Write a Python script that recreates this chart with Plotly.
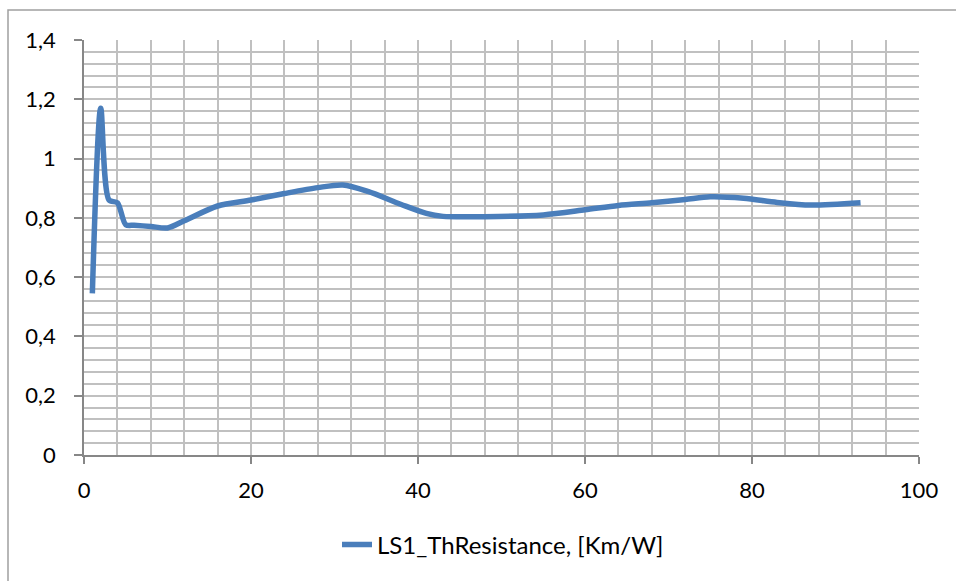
import plotly.graph_objects as go

# Data
x_vals = [1, 2, 3, 4, 5, 6, 8, 10, 12, 16, 20, 24, 28, 31, 34, 38, 41, 43, 48, 55, 60, 64, 68, 72, 75, 79, 83, 87, 93]
y_vals = [0.545, 1.17, 0.86, 0.851, 0.777, 0.775, 0.771, 0.766, 0.79, 0.84, 0.86, 0.882, 0.902, 0.911, 0.889,
          0.845, 0.815, 0.805, 0.804, 0.81, 0.827, 0.842, 0.851, 0.862, 0.871, 0.866, 0.852, 0.843, 0.851]
series_name = "LS1_ThResistance, [Km/W]"
y_tick_vals = [0, 0.2, 0.4, 0.6, 0.8, 1.0, 1.2, 1.4]
y_tick_text = ["0", "0,2", "0,4", "0,6", "0,8", "1", "1,2", "1,4"]

W, H = 956, 581
L, R, T, B = 84, 37, 40, 126
pw, ph = W - L - R, H - T - B

FONT = "Lato"
grid_col = "#c0c0c0"
axis_col = "#878787"

fig = go.Figure()
fig.add_trace(go.Scatter(
    x=x_vals, y=y_vals, mode="lines", name=series_name,
    line=dict(color="#4A7EBB", width=5.5, shape="spline", smoothing=0.8),
))

def px_to_paper_x(p):
    return (p - L) / pw

def px_to_paper_y(p):
    return (H - B - p) / ph

fig.update_layout(
    width=W, height=H,
    margin=dict(l=L, r=R, t=T, b=B),
    paper_bgcolor="white", plot_bgcolor="white",
    font=dict(family=FONT, size=22, color="#000000"),
    showlegend=True,
    legend=dict(orientation="h", x=px_to_paper_x(503), xanchor="center",
                y=px_to_paper_y(545), yanchor="middle",
                font=dict(family=FONT, size=24), bgcolor="rgba(0,0,0,0)"),
    xaxis=dict(range=[0, 100], tickvals=[0, 20, 40, 60, 80, 100],
               showgrid=True, gridcolor=grid_col, gridwidth=1.5,
               minor=dict(dtick=4, tick0=0, showgrid=True, gridcolor=grid_col, gridwidth=1.5, ticks=""),
               showline=True, linecolor=axis_col, linewidth=1.5,
               ticks="outside", ticklen=7, tickcolor=axis_col, tickwidth=1.5,
               ticklabelstandoff=8,
               zeroline=False, fixedrange=True),
    yaxis=dict(range=[0, 1.4], tickvals=y_tick_vals, ticktext=y_tick_text,
               showgrid=True, gridcolor=grid_col, gridwidth=1.5,
               minor=dict(dtick=0.04, tick0=0, showgrid=True, gridcolor=grid_col, gridwidth=1.5, ticks=""),
               showline=True, linecolor=axis_col, linewidth=1.5,
               ticks="outside", ticklen=8, tickcolor=axis_col, tickwidth=1.5,
               ticklabelstandoff=14,
               zeroline=False, fixedrange=True),
    shapes=[dict(type="rect", xref="paper", yref="paper",
                 x0=px_to_paper_x(8), x1=px_to_paper_x(975),
                 y0=px_to_paper_y(600), y1=px_to_paper_y(10),
                 line=dict(color="#a0a0a0", width=1.5), fillcolor="rgba(0,0,0,0)", layer="below")],
)

fig.write_html("out.html")
